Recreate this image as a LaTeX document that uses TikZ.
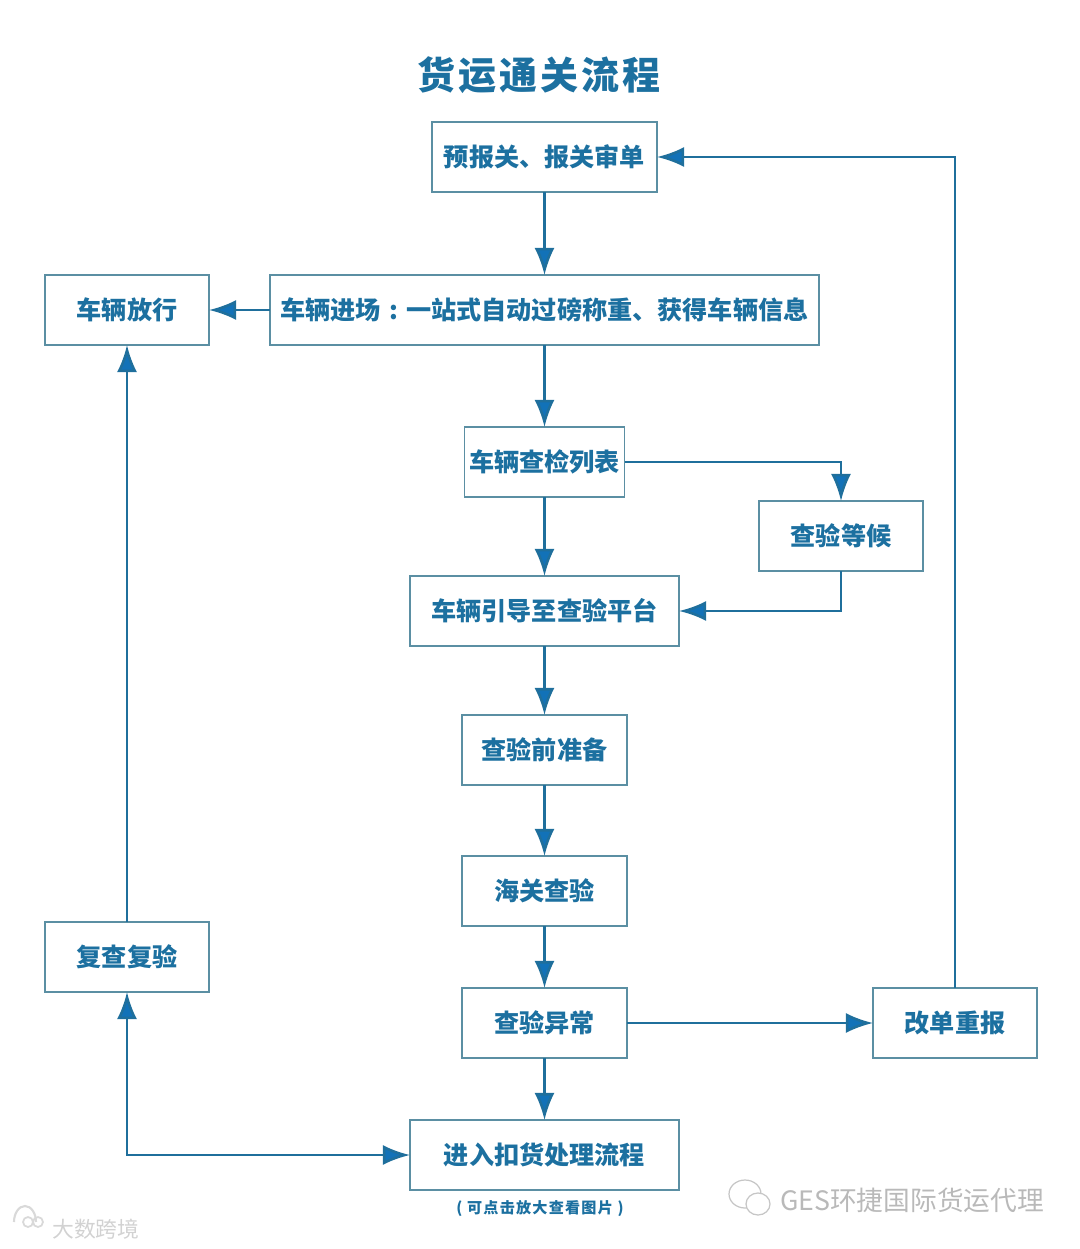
\documentclass[tikz,border=0pt]{standalone}
\usepackage{fontspec}
\setmainfont{Noto Sans CJK SC}
\newfontfamily\titlefont[LetterSpace=8]{Noto Sans CJK SC}
\newfontfamily\notefont[LetterSpace=8]{Noto Sans CJK SC}
\usetikzlibrary{arrows.meta}
\definecolor{boxline}{HTML}{5B8FA3}
\definecolor{flowline}{HTML}{1F6F9C}
\definecolor{flowhead}{HTML}{1272B8}
\definecolor{flowtext}{HTML}{1C70A0}
\tikzset{
	flowbox/.style={draw=boxline, rectangle, line width=0.42pt, minimum height=0.7cm, inner sep=0pt, outer sep=0pt,
		text=flowtext, font=\fontsize{7.15pt}{8pt}\selectfont\bfseries},
	flow/.style={draw=flowline, line width=0.72pt, -{Latex[length=0.27cm, width=0.2cm, fill=flowhead]}},
}
\begin{document}
\begin{tikzpicture}[x=0.01cm, y=-0.01cm]
	\useasboundingbox (0,0) rectangle (1080,1249);
	\node [text=flowtext, font=\fontsize{10.8pt}{12pt}\selectfont\titlefont\bfseries] (title) at (539,75) {货运通关流程};
	\node [flowbox, minimum width=2.25cm] (prereport) at (544.5,157) {预报关、报关审单};
	\node [flowbox, minimum width=5.49cm] (entry)     at (544.5,310) {车辆进场\makebox[1em]{:}一站式自动过磅称重、获得车辆信息};
	\node [flowbox, minimum width=1.64cm] (release)   at (127,310)   {车辆放行};
	\node [flowbox, minimum width=1.60cm] (checklist) at (544.5,462) {车辆查检列表};
	\node [flowbox, minimum width=1.64cm] (waiting)   at (841,536)   {查验等候};
	\node [flowbox, minimum width=2.69cm] (guide)     at (544.5,611) {车辆引导至查验平台};
	\node [flowbox, minimum width=1.65cm] (prepare)   at (544.5,750) {查验前准备};
	\node [flowbox, minimum width=1.65cm] (inspect)   at (544.5,891) {海关查验};
	\node [flowbox, minimum width=1.65cm] (abnormal)  at (544.5,1023) {查验异常};
	\node [flowbox, minimum width=1.64cm] (redeclare) at (955,1023)  {改单重报};
	\node [flowbox, minimum width=2.69cm] (detain)    at (544.5,1155) {进入扣货处理流程};
	\node [flowbox, minimum width=1.64cm] (recheck)   at (127,957)   {复查复验};
	\node [text=flowtext, font=\fontsize{4.3pt}{5pt}\selectfont\notefont\bfseries] (zoomnote) at (540,1209) {( 可点击放大查看图片 )};
	% arrows down the middle
	\draw [flow] (prereport) -- (entry);
	\draw [flow] (entry) -- (checklist);
	\draw [flow] (checklist) -- (guide);
	\draw [flow] (guide) -- (prepare);
	\draw [flow] (prepare) -- (inspect);
	\draw [flow] (inspect) -- (abnormal);
	\draw [flow] (abnormal) -- (detain);
	% side branches
	\draw [flow] (entry) -- (release);
	\draw [flow] (checklist) -| (waiting);
	\draw [flow] (waiting) |- (guide);
	\draw [flow] (abnormal) -- (redeclare);
	\draw [flow] (redeclare) |- (prereport);
	\draw [flow] (recheck) -- (release);
	\draw [flow, {Latex[length=0.27cm, width=0.2cm, fill=flowhead]}-{Latex[length=0.27cm, width=0.2cm, fill=flowhead]}] (recheck) |- (detain);
	% watermarks
	\draw [gray!45, line width=0.35pt, fill=white] (745,1194) ellipse [x radius=16, y radius=14];
	\draw [gray!45, line width=0.35pt, fill=white] (758,1204) ellipse [x radius=12, y radius=11];
	\node [text=gray!55, font=\fontsize{7.6pt}{9pt}\selectfont] (mark) at (912,1200) {GES环捷国际货运代理};
	\draw [gray!30, line width=0.6pt] (14,1222) arc [start angle=180, end angle=360, x radius=11, y radius=16];
	\draw [gray!30, line width=0.5pt] (28,1222) circle [radius=5] (38,1222) circle [radius=5];
	\node [text=gray!35, font=\fontsize{6.2pt}{8pt}\selectfont] (brand) at (96,1229) {大数跨境};
\end{tikzpicture}
\end{document}
